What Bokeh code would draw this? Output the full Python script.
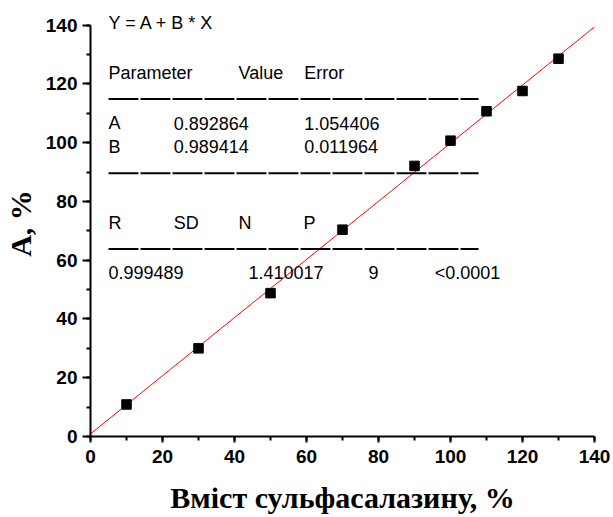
from bokeh.plotting import figure
from bokeh.models import Range1d, SingleIntervalTicker, Label
from bokeh.embed import file_html
from bokeh.resources import INLINE

# ---- data ----
content_x = [10, 30, 50, 70, 90, 100, 110, 120, 130]
found_y = [10.9, 30.0, 48.8, 70.4, 92.1, 100.7, 110.7, 117.6, 128.6]

fit_A = 0.892864
fit_B = 0.989414
fit_x_range = [0, 140]

param_header = ["Parameter", "Value", "Error"]
param_names = ["A", "B"]
param_values = ["0.892864", "0.989414"]
param_errors = ["1.054406", "0.011964"]
stat_header = ["R", "SD", "N", "P"]
stat_values = ["0.999489", "1.410017", "9", "<0.0001"]
equation = "Y = A + B * X"

x_title = "Вміст сульфасалазину, %"
y_title = "A, %"

axis_min, axis_max = 0, 140

# ---- figure ----
p = figure(width=613, height=517, output_backend="svg", toolbar_location=None,
           x_range=Range1d(0, 140), y_range=Range1d(0, 145),
           min_border_left=90, min_border_right=19, min_border_top=10, min_border_bottom=81)
p.outline_line_color = None
p.grid.visible = False
p.background_fill_color = "white"
p.border_fill_color = "white"

for ax in (p.xaxis[0], p.yaxis[0]):
    ax.ticker = SingleIntervalTicker(interval=20, num_minor_ticks=2)
    ax.bounds = (axis_min, axis_max)
    ax.axis_line_width = 2
    ax.major_tick_line_width = 2
    ax.minor_tick_line_width = 2
    ax.major_tick_in = 0
    ax.minor_tick_out = 4
    ax.minor_tick_in = 0
    ax.major_label_text_font = "Liberation Sans"
    ax.major_label_text_font_style = "bold"
    ax.major_label_text_font_size = "19px"
    ax.major_label_text_color = "black"
    ax.axis_label_text_font = "Liberation Serif"
    ax.axis_label_text_font_style = "bold"
    ax.axis_label_text_font_size = "30px"
    ax.axis_label_text_color = "black"

p.xaxis.major_tick_out = 6
p.yaxis.major_tick_out = 8
p.xaxis.axis_label = x_title
p.yaxis.axis_label = y_title
p.xaxis.major_label_standoff = 7
p.yaxis.major_label_standoff = 5
p.xaxis.axis_label_standoff = 15
p.yaxis.axis_label_standoff = 6

# fit line
fit_y = [fit_A + fit_B * x for x in fit_x_range]
p.line(fit_x_range, fit_y, line_color="red", line_width=1)

# points
p.scatter(content_x, found_y, marker="square", size=9.5,
          fill_color="black", line_color="black")

# ---- annotation table (layout) ----
col_x1 = 5.0
col_x2 = 23.1
col_x3 = 41.1
col_x4 = 59.4
rule_x0, rule_x1 = 5.0, 107.8
rules_y = [114.9, 89.6, 63.8]

p.segment(x0=[rule_x0] * 3, y0=rules_y, x1=[rule_x1] * 3, y1=rules_y,
          line_color="black", line_width=2, line_dash="30 2")

def lab(x, y, t):
    p.add_layout(Label(x=x, y=y, text=t, text_font="Liberation Sans",
                       text_font_size="18px", text_color="black",
                       text_baseline="alphabetic", text_align="left"))

lab(col_x1, 140.9, equation)
for xx, t in zip([col_x1, col_x3, col_x4], param_header):
    lab(xx, 123.7, t)
for yy, n, v, e in zip([106.7, 98.6], param_names, param_values, param_errors):
    lab(col_x1, yy, n)
    lab(col_x2, yy, v)
    lab(col_x4, yy, e)
for xx, t in zip([col_x1, col_x2, col_x3, 59.2], stat_header):
    lab(xx, 72.7, t)
for xx, t in zip([col_x1, 43.9, 77.2, 95.6], stat_values):
    lab(xx, 55.7, t)

open("out.html", "w").write(file_html(p, INLINE))
